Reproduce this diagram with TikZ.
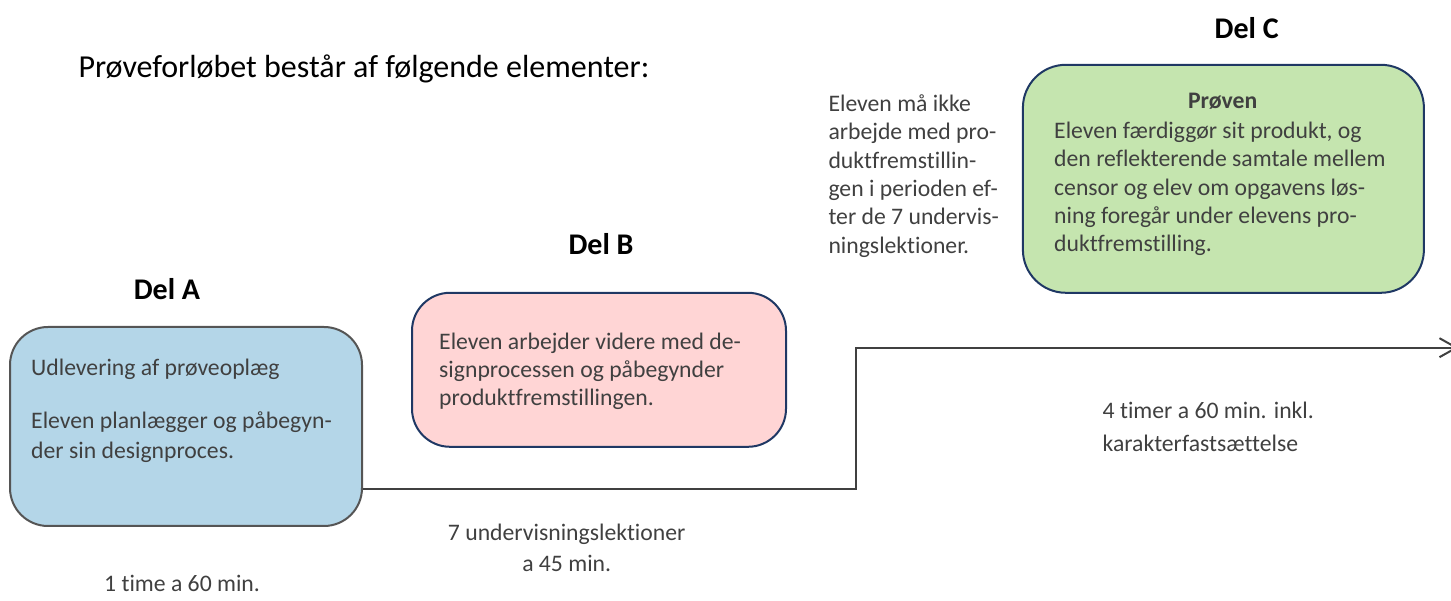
\documentclass[tikz,border=0pt]{standalone}
\usepackage{fontspec}
\setmainfont{Carlito}[Ligatures=NoCommon]
\usetikzlibrary{arrows.meta,positioning,calc}
\definecolor{blaa}{RGB}{180,214,232}
\definecolor{roed}{RGB}{255,213,213}
\definecolor{groen}{RGB}{197,229,175}
\definecolor{marine}{RGB}{31,56,100}
\definecolor{graa}{RGB}{64,64,64}
\definecolor{kant}{RGB}{85,85,85}
\tikzset{
  %Define standard arrow tip
  >={Straight Barb[length=17pt,width=19pt]},
  %Define style for boxes
  delboks/.style={
    rectangle,
    rounded corners=38pt,
    line width=2pt,
    inner sep=0pt},
  %Define style for text (anchored at the last line)
  tekst/.style={
    text=graa,
    font=\fontsize{23.7}{28.4}\selectfont,
    align=left,
    inner sep=0pt,
    anchor=base west},
  overskrift/.style={
    font=\fontsize{30}{36}\selectfont\bfseries,
    inner sep=0pt,
    anchor=base},
  % Define arrow style
  pil/.style={
    ->,
    draw=graa,
    line width=2pt}
}
\begin{document}
\begin{tikzpicture}[x=1pt,y=1pt]
  \useasboundingbox (0,0) rectangle (1451,601);
  \node[anchor=base west,inner sep=0pt,font=\fontsize{32}{38}\selectfont] (titel) at (78.3,523.7) {Prøveforløbet består af følgende elementer:};
  % Del A
  \node[delboks,draw=kant,fill=blaa,minimum width=352pt,minimum height=199pt] (a) at (186,174.5) {};
  \node[overskrift] (del a) at (167,301) {Del A};
  \node[tekst,font=\fontsize{23.7}{30}\selectfont] (a tekst) at ($(a.north west)+(22,-133)$) {Udlevering af prøveoplæg\\[23.3pt]Eleven planlægger og påbegyn-\\der sin designproces.};
  \node[tekst] (a tid) at (104,9.3) {1 time a 60 min.};
  % Del B
  \node[delboks,draw=marine,fill=roed,minimum width=374pt,minimum height=154pt] (b) at (599,231.2) {};
  \node[overskrift] (del b) at (601,346) {Del B};
  \node[tekst] (b tekst) at ($(b.north west)+(28,-114.1)$) {Eleven arbejder videre med de-\\signprocessen og påbegynder\\produktfremstillingen.};
  \node[tekst,align=center,anchor=base,font=\fontsize{23.7}{30.7}\selectfont] (b tid) at (566.7,29.3) {7 undervisningslektioner\\a 45 min.};
  \node[tekst] (note) at (828.3,347.7) {Eleven må ikke\\arbejde med pro-\\duktfremstillin-\\gen i perioden ef-\\ter de 7 undervis-\\ningslektioner.};
  % Del C
  \node[delboks,draw=marine,fill=groen,rounded corners=43pt,minimum width=401pt,minimum height=228pt] (c) at (1223.4,422.2) {};
  \node[overskrift] (del c) at (1246.7,562.7) {Del C};
  \node[tekst,anchor=base,font=\fontsize{23.7}{28.4}\selectfont\bfseries] (c titel) at ($(c.north)+(-0.7,-45.2)$) {Prøven};
  \node[tekst] (c tekst) at ($(c.north west)+(32.1,-188.2)$) {Eleven færdiggør sit produkt, og\\den reflekterende samtale mellem\\censor og elev om opgavens løs-\\ning foregår under elevens pro-\\duktfremstilling.};
  \node[tekst,font=\fontsize{23.7}{33.4}\selectfont] (c tid) at (1102.5,149.3) {4 timer a 60 min. inkl.\\karakterfastsættelse};
  % forbindelse
  \coordinate (trin) at (855.7,253.3);
  \coordinate (slut) at (1458.5,253.3);
  \draw[pil] ($(a.south east)+(0,37.7)$) -| (trin) -- (slut);
\end{tikzpicture}
\end{document}
